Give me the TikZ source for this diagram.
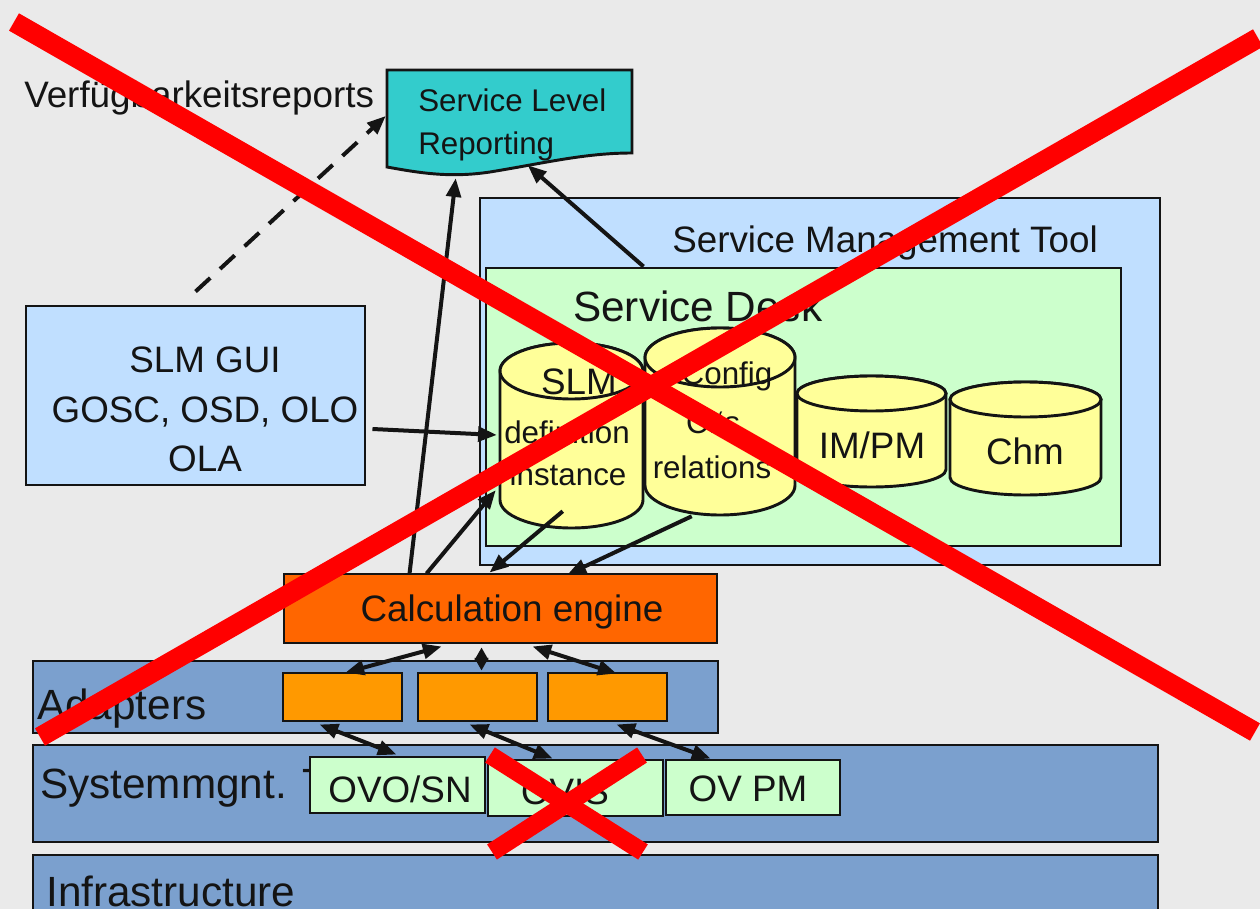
\documentclass[tikz,border=0pt]{standalone}
\usepackage{fontspec}
\setmainfont{Liberation Sans}
\usetikzlibrary{arrows.meta,calc,fit}

\definecolor{bg}{HTML}{EAEAEA}
\definecolor{ink}{HTML}{141414}
\definecolor{paleblue}{HTML}{C0DFFF}
\definecolor{palegreen}{HTML}{CCFFCC}
\definecolor{paleyellow}{HTML}{FFFF99}
\definecolor{teal}{HTML}{33CCCC}
\definecolor{calcorange}{HTML}{FF6600}
\definecolor{adaptorange}{HTML}{FF9900}
\definecolor{steel}{HTML}{7BA0CE}
\definecolor{strike}{HTML}{FF0000}

\newcommand\fNormal{\fontsize{27.6}{33}\selectfont}
\newcommand\fSmall{\fontsize{23.5}{28}\selectfont}
\newcommand\fBig{\fontsize{31.7}{38}\selectfont}

% database cylinder: centre x, x radius, top y, bottom y, y radius
\newcommand\dbcyl[5]{%
  \filldraw[dbshape] (#1-#2,#3) -- (#1-#2,#4)
    arc[start angle=180,end angle=0,x radius=#2,y radius=#5]
    -- (#1+#2,#3)
    arc[start angle=360,end angle=180,x radius=#2,y radius=#5] -- cycle;
  \draw[dbshape] (#1,#3) ellipse[x radius=#2,y radius=#5];
}

\begin{document}
\begin{tikzpicture}[x=0.75pt,y=-0.75pt,
  box/.style={draw=ink,line width=2.2pt,inner sep=0pt},
  region/.style={inner sep=0pt},
  dbshape/.style={fill=paleyellow,draw=ink,line width=2.2pt},
  lbl/.style={anchor=base west,inner sep=0pt,text=ink},
  clbl/.style={anchor=base,inner sep=0pt,text=ink,align=center},
  tip/.style={},
  arr/.style={draw=ink,line width=3pt,-{Triangle[length=14pt,width=11pt]}},
  dbl/.style={draw=ink,line width=3pt,{Triangle[length=14pt,width=11pt]}-{Triangle[length=14pt,width=11pt]}},
  dblshort/.style={draw=ink,line width=3pt,{Triangle[length=9.5pt,width=10pt]}-{Triangle[length=9.5pt,width=10pt]}},
  dashedarr/.style={arr,dash pattern=on 15pt off 10pt},
  cross/.style={draw=strike,line width=15pt},
  smallcross/.style={draw=strike,line width=13.5pt}]

\clip (0,0) rectangle (1260,909);
\fill[bg] (0,0) rectangle (1260,909);

% Service Management Tool and Service Desk frames
\node[box,fill=paleblue,fit={(480,198)(1160,565)}] (smt) {};
\node[lbl,font=\fNormal] (smtlabel) at (672,253) {Service Management Tool};
\node[box,fill=palegreen,fit={(486,268)(1121,546)}] (sd) {};
\node[lbl,font=\fBig] (sdlabel) at (573,321) {Service Desk};

% databases
\node[region,fit={(500,343)(643,528)}] (slmdb) {};
\node[region,fit={(645,328)(795,515)}] (cfgdb) {};
\node[region,fit={(797,376)(946,487)}] (imdb) {};
\node[region,fit={(950,382)(1101,495)}] (chmdb) {};
\dbcyl{571.5}{71.5}{371}{500}{28}
\dbcyl{720}{75}{357.5}{485.5}{29.5}
\dbcyl{871.5}{74.5}{393.5}{469.5}{17.5}
\dbcyl{1025.5}{75.5}{399.5}{477.5}{17.5}
\node[clbl,font=\fNormal] (slmtxt) at (579,394) {SLM};
\node[clbl,font=\fSmall] (deftxt) at (567,443) {definition};
\node[clbl,font=\fSmall] (insttxt) at (568,485) {instance};
\node[clbl,font=\fSmall] (cfgtxt) at (727,384) {Config};
\node[clbl,font=\fSmall] (citxt) at (713,433) {CI‘s};
\node[clbl,font=\fSmall] (reltxt) at (712,478) {relations};
\node[clbl,font=\fNormal] (imtxt) at (872,458) {IM/PM};
\node[clbl,font=\fNormal] (chmtxt) at (1025,464) {Chm};

% SLM GUI
\node[box,fill=paleblue,fit={(26,306)(365,485)}] (gui) {};
\node[clbl,font=\fNormal] (gui1) at (205,372) {SLM GUI};
\node[clbl,font=\fNormal] (gui2) at (205,422) {GOSC, OSD, OLO};
\node[clbl,font=\fNormal] (gui3) at (205,471) {OLA};

% Service Level Reporting document
\node[region,fit={(387,70)(632,168)}] (slr) {};
\filldraw[fill=teal,draw=ink,line width=2.2pt]
  (387,70) -- (632,70) -- (632,153)
  .. controls (585,153) and (545,163) .. (490,172)
  .. controls (450,178) and (420,173) .. (387,167) -- cycle;
\node[lbl,font=\fSmall] (slr1) at (418,112) {Service Level};
\node[lbl,font=\fSmall] (slr2) at (418,155) {Reporting};
\node[lbl,font=\fNormal] (verf) at (24,108) {Verfügbarkeitsreports};

% calculation engine
\node[box,fill=calcorange,fit={(284,574)(717,643)}] (calc) {};
\node[clbl,font=\fNormal] (calctxt) at (512,621) {Calculation engine};

% adapters layer
\node[box,fill=steel,fit={(33,661)(718,733)}] (adband) {};
\node[lbl,font=\fBig] (adtxt) at (37,719) {Adapters};
\node[box,fill=adaptorange,fit={(283,673)(402,721)}] (ad1) {};
\node[box,fill=adaptorange,fit={(418,673)(537,721)}] (ad2) {};
\node[box,fill=adaptorange,fit={(548,673)(667,721)}] (ad3) {};

% system management layer
\node[box,fill=steel,fit={(33,745)(1158,842)}] (sysband) {};
\node[lbl,font=\fBig] (systxt) at (40,798) {Systemmgnt. T};
\node[box,fill=palegreen,fit={(310,757)(485,813)}] (ovo) {};
\node[box,fill=palegreen,fit={(488,760)(663,816)}] (ovis) {};
\node[box,fill=palegreen,fit={(666,760)(840,815)}] (ovpm) {};
\node[clbl,font=\fNormal] (ovotxt) at (400,802) {OVO/SN};
\node[clbl,font=\fNormal] (ovistxt) at (565,804) {OVIS};
\node[clbl,font=\fNormal] (ovpmtxt) at (748,801) {OV PM};

% infrastructure layer
\node[box,fill=steel,fit={(33,855)(1158,930)}] (infra) {};
\node[lbl,font=\fBig] (infratxt) at (46,906) {Infrastructure};

% connectors
\draw[dashedarr] ($(gui.north west)+(171,-13)$) -- ($(slr.west)+(-1,-3)$);
\draw[arr] ($(calc.north west)+(127,1)$) -- ($(slr.south west)+(69,10)$);
\draw[arr] ($(sd.north west)+(159,0)$) -- ($(slr.south west)+(141,-3)$);
\draw[arr] ($(gui.east)+(6,33.5)$) -- ($(slmdb.west)+(-3,-0.5)$);
\draw[arr] ($(calc.north west)+(144,1)$) -- ($(slmdb.south west)+(-4,-38)$);
\draw[arr] ($(slmdb.south west)+(63,-17)$) -- ($(calc.north west)+(207,0)$);
\draw[arr] ($(cfgdb.south west)+(47,1)$) -- ($(calc.north west)+(285,2)$);
\draw[dbl] ($(calc.south west)+(159,2)$) -- ($(ad1.north west)+(64,1)$);
\draw[dblshort] ($(calc.south west)+(199,3)$) -- ($(ad2.north west)+(65,-1)$);
\draw[dbl] ($(calc.south west)+(250,2)$) -- ($(ad3.north west)+(70,2)$);
\draw[dbl] ($(ad1.south west)+(38,2)$) -- ($(ovo.north west)+(88,-1)$);
\draw[dbl] ($(ad2.south west)+(53,2)$) -- ($(ovis.north west)+(66,0)$);
\draw[dbl] ($(ad3.south west)+(70,2)$) -- ($(ovpm.north west)+(46,0)$);

% strike-through marks
\draw[cross] (14,22) -- (1255,732);
\draw[cross] (40,737) -- (1258,38);
\draw[smallcross] (490,755) -- (643,852);
\draw[smallcross] (642,755) -- (492,852);
\end{tikzpicture}
\end{document}
